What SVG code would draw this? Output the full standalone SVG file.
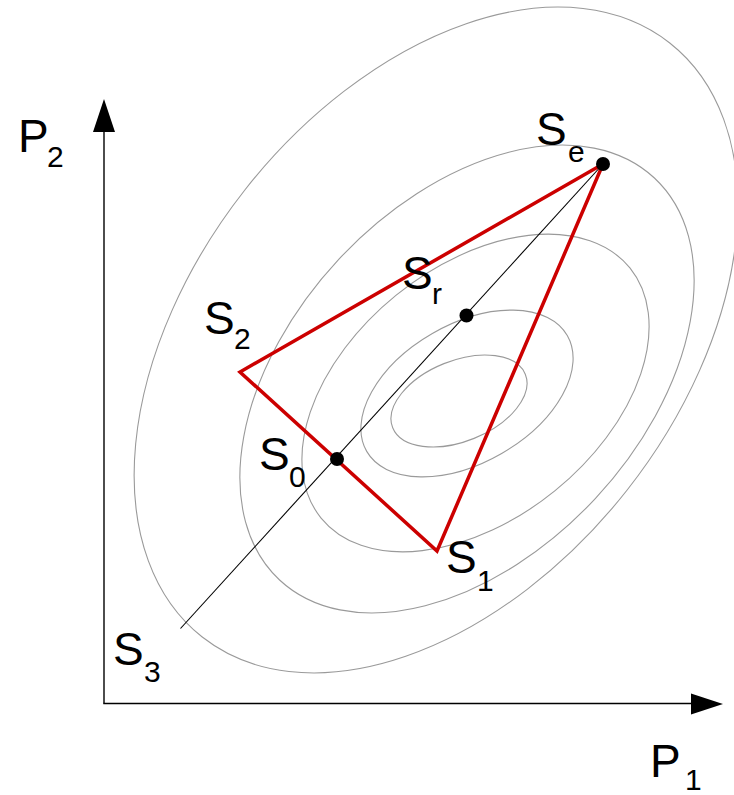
<svg xmlns="http://www.w3.org/2000/svg" width="734" height="795" viewBox="0 0 734 795">
<style>
.c{fill:none;stroke:#9a9a9a;stroke-width:1.1}
.ax{stroke:#000;stroke-width:1.4;fill:none}
.tri{fill:none;stroke:#cc0000;stroke-width:3.5;stroke-linejoin:miter}
.t{font-family:"Liberation Sans",Arial,sans-serif;font-size:46px;fill:#000}
.s{font-family:"Liberation Sans",Arial,sans-serif;font-size:30px;fill:#000}
.dot{fill:#000}
</style>
<rect width="734" height="795" fill="#fff"/>
<g id="contours">
<ellipse class="c" cx="459" cy="401" rx="71.5" ry="40.3" transform="rotate(-22 459 401)"/>
<ellipse class="c" cx="467" cy="393.5" rx="115.8" ry="69.3" transform="rotate(-30 467 393.5)"/>
<ellipse class="c" cx="475.5" cy="393" rx="198.7" ry="126" transform="rotate(-39 475.5 393)"/>
<ellipse class="c" cx="467" cy="379" rx="274.8" ry="175.4" transform="rotate(-47 467 379)"/>
<ellipse class="c" cx="436" cy="340" rx="378" ry="243" transform="rotate(-51.8 436 340)"/>
</g>
<g id="axes">
<line class="ax" x1="104" y1="130" x2="104" y2="703.5"/>
<line class="ax" x1="103.3" y1="703.5" x2="692" y2="703.5"/>
<polygon points="104,99 93,132 115,132" fill="#000"/>
<polygon points="723,704 691,693.5 691,714.5" fill="#000"/>
</g>
<g id="connectors">
<line x1="180.5" y1="628.5" x2="603" y2="164" stroke="#000" stroke-width="1.1"/>
<polygon class="tri" points="603,164 240,372 437,551"/>
</g>
<g id="Se"><circle class="dot" cx="603" cy="164" r="7"/><text class="t" x="536" y="145">S</text><text class="s" x="568" y="162">e</text></g>
<g id="Sr"><circle class="dot" cx="466.5" cy="315.5" r="7"/><text class="t" x="402" y="289">S</text><text class="s" x="432" y="304">r</text></g>
<g id="S0"><circle class="dot" cx="337" cy="459" r="7"/><text class="t" x="259" y="470">S</text><text class="s" x="289" y="487">0</text></g>
<g id="S1"><text class="t" x="446" y="573">S</text><text class="s" x="477" y="591">1</text></g>
<g id="S2"><text class="t" x="204" y="334">S</text><text class="s" x="234" y="349">2</text></g>
<g id="S3"><text class="t" x="113" y="665">S</text><text class="s" x="144" y="682">3</text></g>
<g id="P1"><text class="t" x="650" y="777">P</text><text class="s" x="685" y="790">1</text></g>
<g id="P2"><text class="t" x="18" y="152">P</text><text class="s" x="47" y="167">2</text></g>
</svg>
